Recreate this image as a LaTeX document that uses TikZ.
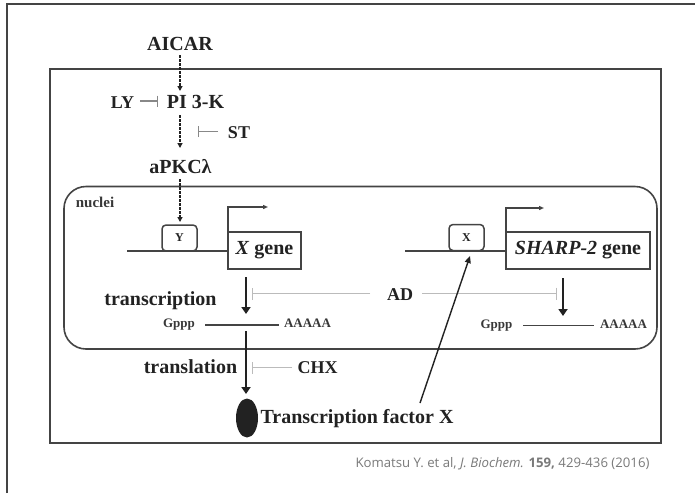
\documentclass[tikz,border=0pt]{standalone}
\usepackage{fontspec}
\setmainfont{Liberation Serif}
\newfontfamily\citefont{Open Sans}
\usetikzlibrary{arrows.meta,shapes.geometric}
\definecolor{ink}{HTML}{222222}
\definecolor{framec}{HTML}{444444}
\definecolor{midgray}{HTML}{888888}
\definecolor{lightgray}{HTML}{BBBBBB}
\definecolor{citegray}{HTML}{7A7A7A}
\begin{document}
\begin{tikzpicture}[x=1pt,y=-1pt,
  big/.style={font=\bfseries\fontsize{20}{22}\selectfont, text=ink, inner sep=0pt, anchor=base},
  mid/.style={font=\bfseries\fontsize{18}{20}\selectfont, text=ink, inner sep=0pt, anchor=base},
  small/.style={font=\bfseries\fontsize{13}{15}\selectfont, text=ink!90, inner sep=0pt, anchor=base},
  sitebox/.style={draw=framec, line width=1.5pt, rounded corners=4pt, minimum width=35pt, minimum height=26pt, inner sep=0pt, font=\bfseries\fontsize{12}{14}\selectfont, text=ink},
  genebox/.style={draw=framec, line width=1.5pt, minimum height=37pt, inner sep=0pt, font=\bfseries\fontsize{20}{22}\selectfont, text=ink},
  dna/.style={draw=framec, line width=1.6pt},
  dasharr/.style={draw=ink, line width=1.3pt, dash pattern=on 2.5pt off 1.5pt, -{Triangle[length=5pt,width=5pt]}},
  solidarr/.style={draw=ink, line width=1.8pt, -{Triangle[length=7pt,width=9pt]}},
  thinarr/.style={draw=ink, line width=1.4pt, -{Triangle[length=7pt,width=6pt]}},
  inhmid/.style={draw=midgray, line width=1.1pt, -{Bar[width=11pt]}},
  inhlight/.style={draw=lightgray, line width=1.1pt, -{Bar[width=12pt]}},
  boxline/.style={draw=framec, line width=1.6pt}
]
\useasboundingbox (0,0) rectangle (695,493);
\fill[white] (0,0) rectangle (695,493);

% page border
\coordinate (pgA) at (7,493);
\coordinate (pgB) at (7,4);
\coordinate (pgC) at (695,4);
\draw[boxline] (pgA) -- (pgB) -- (pgC);

% cell and nucleus
\coordinate (cellA) at (50,69);
\coordinate (cellB) at (661,443);
\draw[boxline] (cellA) rectangle (cellB);
\coordinate (nucA) at (64,186.5);
\coordinate (nucB) at (657,349);
\draw[boxline, rounded corners=22pt] (nucA) rectangle (nucB);

% signalling
\node[big] (aicar) at (180,50) {AICAR};
\node[big] (pik) at (195.5,108) {PI 3-K};
\node[mid] (ly) at (122.5,108) {LY};
\node[mid] (st) at (239,138) {ST};
\node[big] (apkc) at (180.5,173) {aPKCλ};
\node[small, font=\bfseries\fontsize{15}{17}\selectfont] (nuc) at (95,207) {nuclei};

\coordinate (a1) at (180,55);
\coordinate (a2) at (180,91);
\coordinate (a3) at (180,115);
\coordinate (a4) at (180,148);
\coordinate (a5) at (180,179);
\draw[dasharr] (a1) -- (a2);
\draw[dasharr] (a3) -- (a4);

\coordinate (lyS) at (140,101);
\coordinate (lyE) at (158,101);
\draw[inhmid] (lyS) -- (lyE);
\coordinate (stS) at (218,131.5);
\coordinate (stE) at (198,131.5);
\draw[inhmid] (stS) -- (stE);

% X gene
\node[sitebox] (ybox) at (179.5,238) {Y};
\coordinate (ya) at (180,222);
\draw[dasharr] (a5) -- (ya);
\node[genebox, minimum width=73pt] (xgene) at (264.5,250.5) {\textit{X} gene};
\coordinate (dnaL1) at (127,251);
\coordinate (prL) at (228,251);
\coordinate (prL2) at (228,207);
\coordinate (prL3) at (268,207);
\draw[dna] (dnaL1) -- (prL);
\draw[dna, -{Triangle[length=5pt,width=4pt]}] (prL) -- (prL2) -- (prL3);

% SHARP-2 gene
\node[sitebox] (xbox) at (466.5,237.5) {X};
\node[genebox, minimum width=144pt] (sgene) at (578,250.5) {\textit{SHARP-2} gene};
\coordinate (dnaR1) at (405,251);
\coordinate (prR) at (506,251);
\coordinate (prR2) at (506,208);
\coordinate (prR3) at (544,208);
\draw[dna] (dnaR1) -- (prR);
\draw[dna, -{Triangle[length=5pt,width=4pt]}] (prR) -- (prR2) -- (prR3);

% transcription
\node[big] (trs) at (160.5,305) {transcription};
\coordinate (t1) at (246,277);
\coordinate (t2) at (246,314);
\draw[solidarr] (t1) -- (t2);
\coordinate (t3) at (563,278);
\coordinate (t4) at (563,316);
\draw[solidarr] (t3) -- (t4);

\node[mid] (ad) at (400,300) {AD};
\coordinate (adL1) at (370,293.5);
\coordinate (adL2) at (252,293.5);
\coordinate (adR1) at (422,293.5);
\coordinate (adR2) at (557,293.5);
\draw[inhlight] (adL1) -- (adL2);
\draw[inhlight] (adR1) -- (adR2);

% mRNAs
\node[small] (g1) at (179,327) {Gppp};
\node[small] (p1) at (307.5,327) {AAAAA};
\coordinate (m1a) at (205,325);
\coordinate (m1b) at (279,325);
\draw[dna] (m1a) -- (m1b);
\node[small] (g2) at (496.5,328) {Gppp};
\node[small] (p2) at (623.5,328) {AAAAA};
\coordinate (m2a) at (523,325.5);
\coordinate (m2b) at (594,325.5);
\draw[dna] (m2a) -- (m2b);

% translation
\node[big] (trl) at (190.5,373) {translation};
\coordinate (l1) at (246,331);
\coordinate (l2) at (246,394);
\draw[solidarr] (l1) -- (l2);
\node[mid] (chx) at (317.5,373) {CHX};
\coordinate (chS) at (292,367.5);
\coordinate (chE) at (252,367.5);
\draw[inhlight] (chS) -- (chE);

% transcription factor X
\node[fill=ink, ellipse, minimum width=22pt, minimum height=39pt, inner sep=0pt] (tf) at (247,418) {};
\node[big] (tfl) at (357,423) {Transcription factor X};
\coordinate (f1) at (420,403);
\coordinate (f2) at (470,256);
\draw[thinarr] (f1) -- (f2);

% citation
\node[font=\citefont\fontsize{13.2}{15}\selectfont, text=citegray, inner sep=0pt, anchor=base] (cite) at (502.5,467) {Komatsu Y. et al, \textit{J. Biochem.} \textbf{159,} 429-436 (2016)};
\end{tikzpicture}
\end{document}
